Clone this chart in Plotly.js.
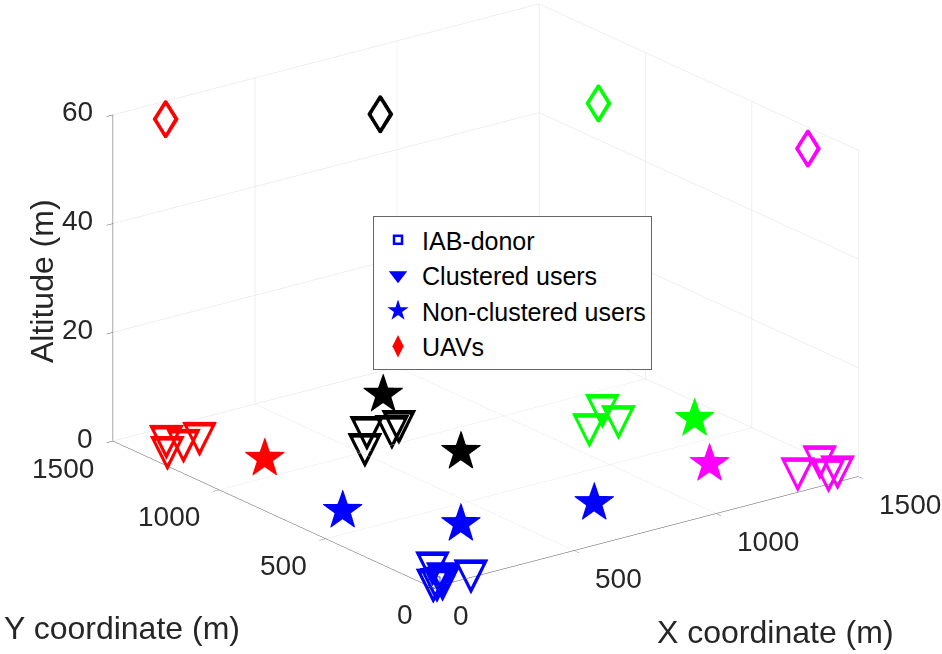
<!DOCTYPE html>
<html><head><meta charset="utf-8">
<script src="https://cdn.plot.ly/plotly-3.0.1.min.js"></script>
<style>html,body{margin:0;padding:0;background:#fff}#chart{width:942px;height:654px}</style>
</head><body><div id="chart"></div>
<script>
// ---- data (metres) ----
const clusterColors = ['#0000ff', '#000000', '#00ff00', '#ff00ff', '#ff0000'];

const donorX = [30];
const donorY = [30];
const donorZ = [0];

const clusteredUserX = [93, 64, 140, 10, 40, 22, 608, 520, 709, 669, 1121, 1244, 1226, 1373, 1481, 1472, 1437, 114, 62, 203, 133];
const clusteredUserY = [124, 34, 6, 10, 6, 8, 1120, 1012, 1105, 1084, 760, 863, 763, 117, 158, 62, 58, 1403, 1329, 1366, 1348];
const clusteredUserCluster = [0, 0, 0, 0, 0, 0, 1, 1, 1, 1, 2, 2, 2, 3, 3, 3, 3, 4, 4, 4, 4];

const nonClusteredX = [186, 387, 789, 845, 740, 1426, 1239, 266];
const nonClusteredY = [671, 384, 294, 1361, 855, 673, 353, 1144];
const nonClusteredCluster = [0, 0, 0, 1, 1, 2, 3, 4];

const uavX = [657, 1200, 1449, 151];
const uavY = [1124, 824, 172, 1457];
const uavZ = [58, 58, 58, 58];
const uavCluster = [1, 2, 3, 4];

const xTicks = [0, 500, 1000, 1500];
const yTicks = [0, 500, 1000, 1500];
const zTicks = [0, 20, 40, 60];

const legendNames = ['IAB-donor', 'Clustered users', 'Non-clustered users', 'UAVs'];

// ---- traces ----
const zeros = a => a.map(() => 0);
const colorsOf = idx => idx.map(i => clusterColors[i]);
const glyphs = (a, g) => a.map(() => g);

// open symbols are drawn at a few sizes to get MATLAB's thick outline
function glyphTraces(xs, ys, zs, idx, glyph, family, sizes) {
  return sizes.map(s => ({
    type: 'scatter3d', mode: 'text', x: xs, y: ys, z: zs,
    text: glyphs(xs, glyph), textposition: 'middle center', showlegend: false, hoverinfo: 'x+y+z',
    textfont: {family: family, size: s, color: colorsOf(idx)}
  }));
}

const traces = [
  {type: 'scatter3d', mode: 'markers', x: donorX, y: donorY, z: donorZ, showlegend: false,
   marker: {symbol: 'square-open', size: 5, color: '#0000ff'}},
  ...glyphTraces(clusteredUserX, clusteredUserY, zeros(clusteredUserX), clusteredUserCluster, '▽', 'DejaVu Sans', [46, 42.5, 39.5]),
  ...glyphTraces(nonClusteredX, nonClusteredY, zeros(nonClusteredX), nonClusteredCluster, '★', 'DejaVu Sans', [54]),
  ...glyphTraces(uavX, uavY, uavZ, uavCluster, '◊', 'Liberation Sans', [54, 50.5]),
  // legend entries
  {type: 'scatter', mode: 'markers', x: [null], y: [null], name: legendNames[0], legendgroup: 'a',
   marker: {symbol: 'square-open', size: 8, color: '#0000ff', line: {width: 2.5, color: '#0000ff'}}},
  {type: 'scatter', mode: 'markers', x: [null], y: [null], name: legendNames[1], legendgroup: 'b',
   marker: {symbol: 'triangle-down', size: 16, color: '#0000ff'}},
  {type: 'scatter', mode: 'markers', x: [null], y: [null], name: legendNames[2], legendgroup: 'c',
   marker: {symbol: 'star', size: 18, color: '#0000ff'}},
  {type: 'scatter', mode: 'markers', x: [null], y: [null], name: legendNames[3], legendgroup: 'd',
   marker: {symbol: 'diamond-tall', size: 16, color: '#ff0000'}}
];

const axisCommon = {
  showbackground: false, showgrid: true, gridcolor: '#e0e0e0', gridwidth: 1,
  zeroline: false, showline: true, linecolor: '#555555', linewidth: 1,
  ticks: 'outside', ticklen: 8, tickcolor: '#555555', tickmode: 'array',
  showticklabels: false, showspikes: false, title: {text: ''}
};

// tick labels placed MATLAB-style, anchored to the tick values in data space
const tickFont = {family: 'Liberation Sans, Arial, sans-serif', size: 28, color: '#262626'};
const tickLabels = [].concat(
  xTicks.map(v => ({x: v, y: 0, z: 0, text: String(v), showarrow: false, font: tickFont,
                    xanchor: 'left', yanchor: 'middle', xshift: 19, yshift: -28})),
  yTicks.map(v => ({x: 0, y: v, z: 0, text: String(v), showarrow: false, font: tickFont,
                    xanchor: 'right', yanchor: 'middle', xshift: -17, yshift: -27})),
  zTicks.map(v => ({x: 0, y: 1500, z: v, text: String(v), showarrow: false, font: tickFont,
                    xanchor: 'right', yanchor: 'middle', xshift: -18, yshift: 3}))
);

const layout = {
  width: 942, height: 654, paper_bgcolor: '#fff', plot_bgcolor: '#fff',
  margin: {l: 0, r: 0, t: 0, b: 0},
  font: {family: 'Liberation Sans, Arial, sans-serif', color: '#262626'},
  xaxis: {visible: false}, yaxis: {visible: false},
  scene: {
    domain: {x: [0, 1], y: [0, 1]},
    aspectmode: 'manual', aspectratio: {x: 1.632, y: 1.622, z: 1.063},
    camera: {projection: {type: 'orthographic'}, up: {x: 0, y: 0, z: 1},
             center: {x: -0.0556, y: 0.0004, z: -0.0898},
             eye: {x: -1.1856, y: -1.4996, z: 0.6022}},
    xaxis: Object.assign({}, axisCommon, {range: [0, 1500], tickvals: xTicks, ticktext: xTicks.map(String)}),
    yaxis: Object.assign({}, axisCommon, {range: [0, 1500], tickvals: yTicks, ticktext: yTicks.map(String)}),
    zaxis: Object.assign({}, axisCommon, {range: [0, 60], tickvals: zTicks, ticktext: zTicks.map(String)}),
    annotations: tickLabels
  },
  legend: {x: 0.396, y: 1 - 216 / 654, xanchor: 'left', yanchor: 'top', bgcolor: '#ffffff',
           bordercolor: '#666666', borderwidth: 1, tracegroupgap: 0, itemwidth: 38,
           font: {family: 'Liberation Sans, Arial, sans-serif', size: 25, color: '#000000'}},
  annotations: [
    {text: 'X coordinate (m)', xref: 'paper', yref: 'paper', x: 775 / 942, y: 1 - 632 / 654,
     xanchor: 'center', yanchor: 'middle', showarrow: false, font: {size: 32, color: '#262626'}},
    {text: 'Y coordinate (m)', xref: 'paper', yref: 'paper', x: 122 / 942, y: 1 - 628 / 654,
     xanchor: 'center', yanchor: 'middle', showarrow: false, font: {size: 32, color: '#262626'}},
    {text: 'Altitude (m)', xref: 'paper', yref: 'paper', x: 42 / 942, y: 1 - 281 / 654,
     xanchor: 'center', yanchor: 'middle', showarrow: false, textangle: -90, font: {size: 32, color: '#262626'}}
  ]
};

Plotly.newPlot('chart', traces, layout, {displayModeBar: false});
</script>
</body></html>
